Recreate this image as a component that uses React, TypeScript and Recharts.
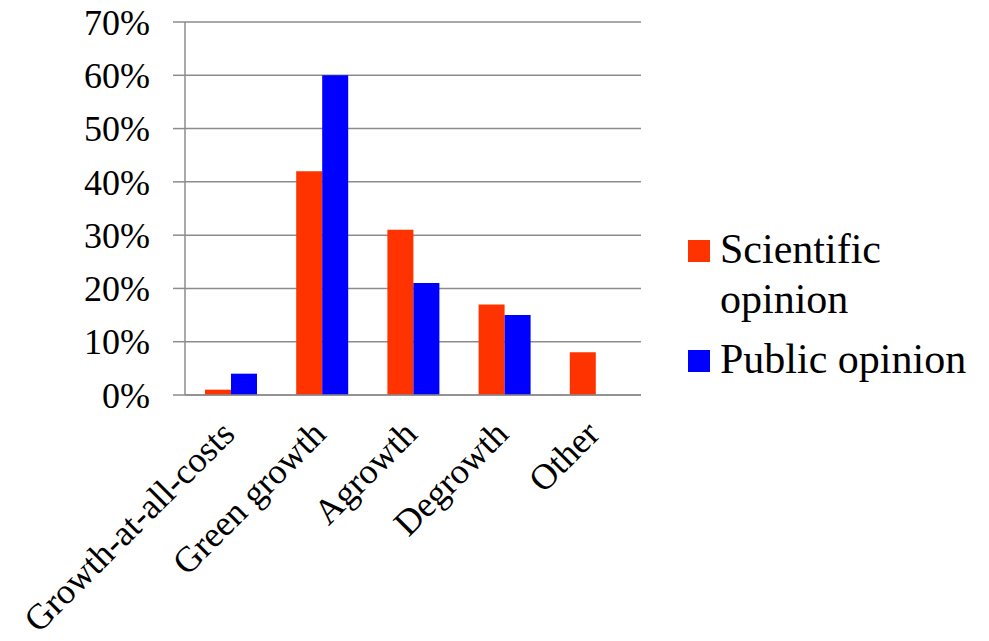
import { BarChart, Bar, XAxis, YAxis, CartesianGrid, Legend } from 'recharts';

const categories = ['Growth-at-all-costs', 'Green growth', 'Agrowth', 'Degrowth', 'Other'];
const scientific = [1, 42, 31, 17, 8];
const publicOpinion = [4, 60, 21, 15, 0];
const yTicks = [0, 10, 20, 30, 40, 50, 60, 70];
const edgeTicks = [0, 1, 2, 3, 4, 5];

const data = categories.map((name, i) => ({
  name,
  scientific: scientific[i],
  public: publicOpinion[i],
}));

const FONT = "'Liberation Serif', 'Times New Roman', Tinos, serif";
const GREY = '#8c8c8c';

const XTick = (props: any) => {
  const { x, y, payload } = props;
  const ax = x + 6;
  const ay = y + 33;
  return (
    <text
      x={ax}
      y={ay}
      transform={`rotate(-45, ${ax}, ${ay})`}
      textAnchor="end"
      style={{ fontFamily: FONT }}
      fontSize={36}
      fill="#000"
    >
      {payload.value}
    </text>
  );
};

const LegendBox = () => {
  const items = [
    { label: 'Scientific opinion', color: '#ff3300' },
    { label: 'Public opinion', color: '#0000ff' },
  ];
  return (
    <div style={{ fontFamily: FONT, fontSize: 42, lineHeight: '50px', color: '#000' }}>
      {items.map((it, i) => (
        <div key={it.label} style={{ display: 'flex', alignItems: 'flex-start', marginTop: i ? 10 : 0 }}>
          <div style={{ width: 22, height: 22, background: it.color, marginTop: 16, marginRight: 10, flexShrink: 0 }} />
          <div style={{ width: 262 }}>{it.label}</div>
        </div>
      ))}
    </div>
  );
};

const App = () => {
  return (
    <div style={{ position: 'absolute', left: 0, top: 0, background: '#fff', fontFamily: FONT }}>
      <BarChart
        width={989}
        height={641}
        data={data}
        margin={{ top: 22, right: 348, left: 0, bottom: 46 }}
        barGap={0}
        style={{ fontFamily: FONT }}
      >
        <CartesianGrid vertical={false} stroke={GREY} strokeWidth={1.5} />
        <XAxis
          xAxisId="edges"
          type="number"
          domain={[0, 5]}
          ticks={edgeTicks}
          tick={false}
          tickSize={10}
          axisLine={false}
          tickLine={{ stroke: GREY, strokeWidth: 1.5 }}
          height={0}
        />
        <XAxis
          dataKey="name"
          interval={0}
          tick={<XTick />}
          tickLine={false}
          axisLine={{ stroke: GREY, strokeWidth: 1.5 }}
          height={200}
        />
        <YAxis
          domain={[0, 70]}
          ticks={yTicks}
          tickFormatter={(v: number) => `${v}%`}
          width={185}
          tickSize={12}
          tickMargin={23}
          axisLine={{ stroke: GREY, strokeWidth: 1.5 }}
          tickLine={{ stroke: GREY, strokeWidth: 1.5 }}
          tick={{ fontSize: 36, fill: '#000', style: { fontFamily: FONT } }}
        />
        <Legend
          layout="horizontal"
          verticalAlign="middle"
          content={<LegendBox />}
          wrapperStyle={{ left: 688, top: 224, width: 300 }}
        />
        <Bar dataKey="scientific" name="Scientific opinion" fill="#ff3300" barSize={26} isAnimationActive={false} />
        <Bar dataKey="public" name="Public opinion" fill="#0000ff" barSize={26} isAnimationActive={false} />
      </BarChart>
    </div>
  );
};

export default App;
